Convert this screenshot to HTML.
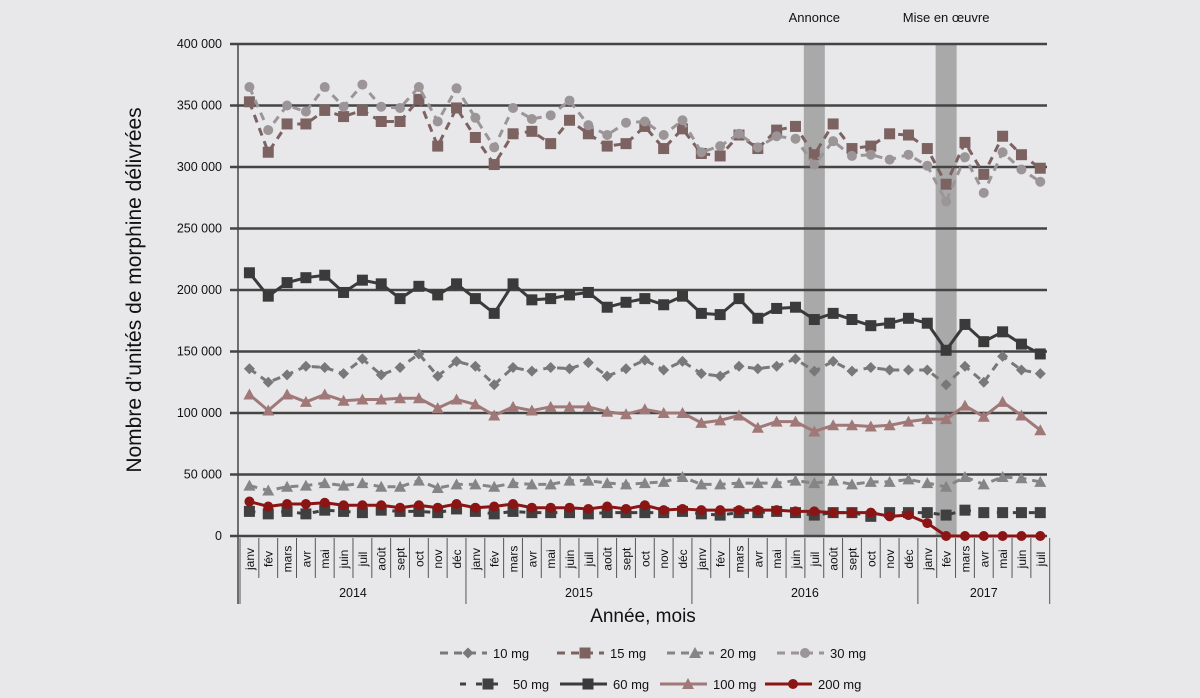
<!DOCTYPE html>
<html><head><meta charset="utf-8">
<style>
body{margin:0;background:#e8e8ea;}
svg{display:block;font-family:"Liberation Sans",sans-serif;}
</style></head>
<body>
<svg id="chart" width="1200" height="698" viewBox="0 0 1200 698" xmlns="http://www.w3.org/2000/svg">
<rect x="0" y="0" width="1200" height="698" fill="#e8e8ea"/>
</svg>
<script>
const months=["janv","fév","mars","avr","mai","juin","juil","août","sept","oct","nov","déc"];
const years=["2014","2015","2016","2017"];
const yTicks=[0,50000,100000,150000,200000,250000,300000,350000,400000];
const s10=[136,125,131,138,137,132,144,131,137,148,130,142,138,123,137,134,137,136,141,130,136,143,135,142,132,130,138,136,138,144,134,142,134,137,135,135,135,123,138,125,146,135,132];
const s15=[353,312,335,335,346,341,346,337,337,355,317,348,324,302,327,329,319,338,327,317,319,333,315,331,311,309,326,315,330,333,310,335,315,317,327,326,315,286,320,294,325,310,299];
const s20=[41,37,40,41,43,41,43,40,40,45,39,42,42,40,43,42,42,45,45,43,42,43,44,48,42,42,43,43,43,45,43,45,42,44,44,46,43,40,48,42,48,47,44];
const s30=[365,330,350,345,365,349,367,349,348,365,337,364,340,316,348,339,342,354,334,326,336,337,326,338,312,317,327,316,325,323,302,321,309,310,306,310,301,272,308,279,312,298,288];
const s50=[20,18,20,18,21,20,19,21,20,20,19,22,20,18,20,19,19,19,18,19,19,19,19,20,18,17,19,19,20,19,17,19,19,16,19,19,19,17,21,19,19,19,19];
const s60=[214,195,206,210,212,198,208,205,193,203,196,205,193,181,205,192,193,196,198,186,190,193,188,195,181,180,193,177,185,186,176,181,176,171,173,177,173,151,172,158,166,156,148];
const s100=[115,102,115,109,115,110,111,111,112,112,104,111,107,98,105,102,105,105,105,101,99,103,100,100,92,94,98,88,93,93,85,90,90,89,90,93,95,95,106,97,109,98,86];
const s200=[28,24,26,26,27,25,25,25,23,25,23,26,23,24,26,23,23,23,22,24,22,25,21,22,21,21,21,21,21,20,20,19,19,19,16,17,10.5,0,0,0,0,0,0];
const events=[{label:"Annonce",idx:30},{label:"Mise en œuvre",idx:37}];

const NS="http://www.w3.org/2000/svg";
const svg=document.getElementById('chart');
const X0=240,CW=18.83,Y0=536,YT=44,VMAX=400000;
const xc=i=>X0+(i+0.5)*CW;
const ys=v=>Y0-(v/VMAX)*(Y0-YT);
function mk(tag,attrs,parent){const e=document.createElementNS(NS,tag);for(const k in attrs)e.setAttribute(k,attrs[k]);(parent||svg).appendChild(e);return e;}

// event bands
events.forEach(ev=>{
  const b=mk('rect',{x:xc(ev.idx)-10.5,y:YT,width:21,height:Y0-YT,fill:'#a9a9a9'});
  
  
  const t=mk('text',{x:xc(ev.idx),y:22,'text-anchor':'middle','font-size':13,fill:'#111'});
  t.textContent=ev.label;
  
  
});
// gridlines & y ticks
yTicks.forEach(v=>{
  const g=mk('line',{x1:230,x2:1047,y1:ys(v),y2:ys(v),stroke:'#444','stroke-width':2.5});
  
  
  const t=mk('text',{x:222,y:ys(v)+4,'text-anchor':'end','font-size':12.5,fill:'#111'});
  t.textContent=v===0?'0':(v/1000)+' 000';
  
  
});
const ax=mk('line',{x1:238,x2:238,y1:YT,y2:604,stroke:'#444','stroke-width':1.5});


// x categories
const N=s10.length;
for(let i=0;i<N;i++){
  const m=i%12;
  const sep=mk('line',{x1:X0+i*CW,x2:X0+i*CW,y1:538,y2:m===0?604:578,stroke:'#555','stroke-width':1});
  
  
  const t=mk('text',{transform:`translate(${xc(i)+4.5},${559}) rotate(-90)`,'text-anchor':'middle','font-size':12,fill:'#111'});
  t.textContent=months[m];
  
  
}
const endSep=mk('line',{x1:X0+N*CW,x2:X0+N*CW,y1:538,y2:604,stroke:'#555','stroke-width':1});


years.forEach((y,k)=>{
  const a=k*12,b=Math.min(N,(k+1)*12);
  const t=mk('text',{x:X0+(a+b)/2*CW,y:597,'text-anchor':'middle','font-size':12.5,fill:'#111'});
  t.textContent=y;
  
  
});
const xt=mk('text',{x:643,y:622,'text-anchor':'middle','font-size':19,fill:'#111'});
xt.textContent='Année, mois';


const yt=mk('text',{transform:'translate(141,290) rotate(-90)','text-anchor':'middle','font-size':21,fill:'#111'});
yt.textContent='Nombre d’unités de morphine délivrées';



function marker(shape,x,y,c,s,parent){
  let e;
  if(shape==='sq') e=mk('rect',{x:x-s,y:y-s,width:2*s,height:2*s,fill:c},parent);
  else if(shape==='ci') e=mk('circle',{cx:x,cy:y,r:s,fill:c},parent);
  else if(shape==='tr') e=mk('polygon',{points:`${x},${y-s-1} ${x-s-1},${y+s} ${x+s+1},${y+s}`,fill:c},parent);
  else e=mk('polygon',{points:`${x},${y-s} ${x+s},${y} ${x},${y+s} ${x-s},${y}`,fill:c},parent);
  return e;
}
const series=[
 {name:'10 mg',d:s10,c:'#787878',sh:'di',dash:'8,6',ms:5.5,k:1000},
 {name:'15 mg',d:s15,c:'#7d6262',sh:'sq',dash:'8,6',ms:5.5,k:1000},
 {name:'20 mg',d:s20,c:'#858585',sh:'tr',dash:'8,6',ms:5,k:1000},
 {name:'30 mg',d:s30,c:'#9c9597',sh:'ci',dash:'8,6',ms:5,k:1000},
 {name:'50 mg',d:s50,c:'#404040',sh:'sq',dash:'6,10',ms:5.5,k:1000},
 {name:'60 mg',d:s60,c:'#3a3a3a',sh:'sq',dash:null,ms:5.5,k:1000},
 {name:'100 mg',d:s100,c:'#a07878',sh:'tr',dash:null,ms:5,k:1000},
 {name:'200 mg',d:s200,c:'#8b1414',sh:'ci',dash:null,ms:5,k:1000}
];
series.forEach(s=>{
  const g=mk('g',{});
  
  
  const pts=s.d.map((v,i)=>`${xc(i)},${ys(v*s.k)}`).join(' ');
  const a={points:pts,fill:'none',stroke:s.c,'stroke-width':3,'stroke-linejoin':'round'};
  if(s.dash)a['stroke-dasharray']=s.dash;
  const pl=mk('polyline',a,g);
  
  
  s.d.forEach((v,i)=>{
    const m=marker(s.sh,xc(i),ys(v*s.k),s.c,s.ms,g);
    
    
  });
});
// legend
const legPos=[[440,653],[557,653],[667,653],[777,653],[460,684],[560,684],[660,684],[765,684]];
series.forEach((s,i)=>{
  const [lx,ly]=legPos[i];
  const g=mk('g',{});
  
  
  const a={x1:lx,x2:lx+47,y1:ly,y2:ly,stroke:s.c,'stroke-width':3};
  if(s.dash)a['stroke-dasharray']=s.dash;
  mk('line',a,g);
  marker(s.sh,lx+28,ly,s.c,s.ms,g);
  const t=mk('text',{x:lx+53,y:ly+5,'font-size':13,fill:'#111'},g);
  t.textContent=s.name;
});
</script>
</body></html>
